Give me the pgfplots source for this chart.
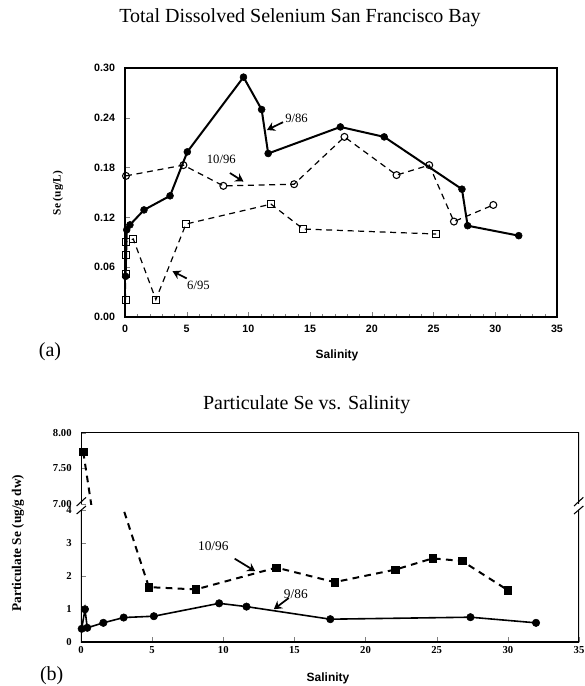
\documentclass[border=0pt]{standalone}
\usepackage{fontspec}
\setmainfont{Liberation Serif}
\newfontfamily\arialf{Liberation Sans}
\usepackage{pgfplots}
\usepackage{pgfplotstable}
\pgfplotsset{compat=1.18}
\usetikzlibrary{arrows.meta}

% (a) total dissolved Se
\pgfplotstableread{
x y
0.05 0.049
0.14 0.105
0.40 0.111
1.54 0.129
3.65 0.146
5.05 0.199
9.60 0.289
11.07 0.250
11.60 0.197
17.45 0.229
21.00 0.217
27.30 0.154
27.76 0.110
31.90 0.098
}\dissSep

\pgfplotstableread{
x y
0.08 0.170
4.73 0.183
7.97 0.158
13.70 0.160
17.78 0.217
22.00 0.171
24.65 0.183
26.65 0.115
29.84 0.135
}\dissOct

\pgfplotstableread{
x y
0.05 0.021
0.05 0.052
0.05 0.075
0.05 0.090
0.67 0.094
2.50 0.021
4.94 0.112
11.83 0.136
14.44 0.106
25.20 0.100
}\dissJun

% (b) particulate Se
\pgfplotstableread{
x y
0.05 0.40
0.28 0.99
0.44 0.43
1.57 0.58
3.00 0.74
5.12 0.78
9.71 1.17
11.63 1.07
17.52 0.69
27.37 0.75
31.98 0.58
}\partSep

\pgfplotstableread{
x y
0.16 7.73
4.77 1.66
8.07 1.59
13.73 2.25
17.82 1.81
22.10 2.19
24.72 2.53
26.78 2.45
29.99 1.57
}\partOct

\pgfplotsset{
  myframe/.style={axis line style={draw=none}, scale only axis, tick align=inside,
    tick pos=left, /pgf/number format/assume math mode=true},
}
\tikzset{
  arr/.style={-{Stealth[length=6pt,width=7pt,inset=2pt]}, line width=1.3pt},
}

\begin{document}
\begin{tikzpicture}
\useasboundingbox (0,0) rectangle (438.75pt,-514.5pt);

% ---------- (a)
\node[font=\fontsize{15}{17}\selectfont] at (225pt,-13pt) {Total Dissolved Selenium San Francisco Bay};
\begin{axis}[myframe, at={(93.75pt,-237.75pt)}, anchor=south west,
  width=324pt, height=186.75pt, clip=false,
  xmin=0, xmax=35, ymin=0, ymax=0.30,
  xtick={0,5,...,35}, minor x tick num=4,
  ytick={0,0.06,...,0.30},
  major tick length=4pt, minor tick length=2.2pt,
  tick label style={font=\arialf\bfseries\fontsize{8}{9}\selectfont},
  xticklabel style={yshift=-2.5pt},
  yticklabel style={xshift=-4pt, /pgf/number format/.cd, fixed, fixed zerofill, precision=2},
]
\draw[line width=0.8pt] (rel axis cs:0,0) rectangle (rel axis cs:1,1);
\addplot[line width=1.5pt, mark=*, mark size=2.6pt, mark options={line width=0.4pt}] table {\dissSep};
\addplot[line width=0.9pt, dash pattern=on 4.5pt off 3.5pt, mark=o, mark size=2.6pt,
  mark options={solid, line width=0.8pt}] table {\dissOct};
\addplot[line width=0.9pt, dash pattern=on 4.5pt off 3.5pt, mark=square, mark size=2.6pt,
  mark options={solid, line width=0.8pt}] table {\dissJun};
\draw[arr] (axis cs:12.8,0.2347) -- (axis cs:11.5,0.2253);
\node[font=\fontsize{9.5}{11}\selectfont] at (axis cs:13.9,0.2391) {9/86};
\draw[arr] (axis cs:8.5,0.1735) -- (axis cs:9.6,0.1632);
\node[font=\fontsize{9.5}{11}\selectfont] at (axis cs:7.8,0.190) {10/96};
\draw[arr] (axis cs:5.0,0.0465) -- (axis cs:3.85,0.0552);
\node[font=\fontsize{9.5}{11}\selectfont] at (axis cs:5.95,0.0387) {6/95};
\end{axis}
\node[font=\arialf\bfseries\fontsize{9}{11}\selectfont] at (252.75pt,-266.25pt) {Salinity};
\node[font=\bfseries\fontsize{8.5}{10}\selectfont, rotate=90] at (43.5pt,-144.75pt) {Se (ug/L)};
\node[font=\fontsize{15}{17}\selectfont] at (37.5pt,-264pt) {(a)};

% ---------- (b)
\node[font=\fontsize{15}{17}\selectfont] at (230pt,-303.75pt) {Particulate Se vs. Salinity};
% upper part of the broken axis
\begin{axis}[myframe, at={(60.75pt,-378pt)}, anchor=south west,
  width=373.5pt, height=53.5pt,
  xmin=0, xmax=35, ymin=7, ymax=8,
  xtick=\empty, ytick={7,7.5,8}, major tick length=4pt,
  tick label style={font=\bfseries\fontsize{8}{9}\selectfont},
  yticklabel style={xshift=-3.5pt, /pgf/number format/.cd, fixed, fixed zerofill, precision=2},
]
\draw[line width=0.8pt] (rel axis cs:0,0) -- (rel axis cs:0,1) -- (rel axis cs:1,1) -- (rel axis cs:1,0);
\addplot[line width=1.5pt, dash pattern=on 5pt off 4pt] table {\partOct};
\addplot[only marks, mark=square*, mark size=2.8pt, restrict y to domain=7:8] table {\partOct};
\end{axis}
% lower part of the broken axis
\begin{axis}[myframe, at={(60.75pt,-481.5pt)}, anchor=south west,
  width=373.5pt, height=99.2pt,
  xmin=0, xmax=35, ymin=0, ymax=4,
  xtick={0,5,...,35}, ytick={0,1,2,3,4}, major tick length=4pt,
  tick label style={font=\bfseries\fontsize{8}{9}\selectfont},
  yticklabel style={xshift=-3.5pt},
]
\draw[line width=0.8pt] (rel axis cs:0,1) -- (rel axis cs:0,0) -- (rel axis cs:1,0) -- (rel axis cs:1,1);
\addplot[line width=1.5pt, dash pattern=on 5pt off 4pt] table {\partOct};
\addplot[only marks, mark=square*, mark size=2.8pt, restrict y to domain=0:4] table {\partOct};
\addplot[line width=1.2pt, mark=*, mark size=2.8pt, mark options={line width=0.4pt}] table {\partSep};
\draw[arr] (axis cs:10.8,2.52) -- (axis cs:12.25,2.14);
\node[font=\fontsize{10}{12}\selectfont] at (axis cs:9.3,2.90) {10/96};
\draw[arr] (axis cs:14.6,1.33) -- (axis cs:13.55,0.99);
\node[font=\fontsize{10}{12}\selectfont] at (axis cs:15.1,1.44) {9/86};
\end{axis}
% break marks
\draw[line width=0.8pt] (57.5pt,-379.5pt) -- (64.5pt,-373pt) (57.5pt,-385.5pt) -- (64.5pt,-379.5pt);
\draw[line width=0.8pt] (430.5pt,-379.5pt) -- (437.5pt,-373pt) (430.5pt,-385.5pt) -- (437.5pt,-379.5pt);
\node[font=\arialf\bfseries\fontsize{9}{11}\selectfont] at (246pt,-508.5pt) {Salinity};
\node[font=\bfseries\fontsize{10}{12}\selectfont, rotate=90] at (13.5pt,-407.25pt) {Particulate Se (ug/g dw)};
\node[font=\fontsize{15}{17}\selectfont] at (38.8pt,-507pt) {(b)};
\end{tikzpicture}
\end{document}
